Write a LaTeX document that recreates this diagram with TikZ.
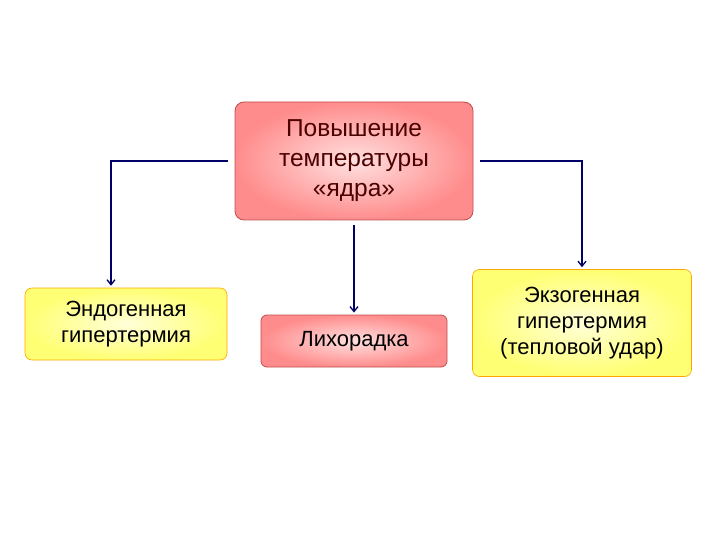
\documentclass[tikz,border=0pt]{standalone}
\usepackage{fontspec}
\setmainfont{Liberation Sans}
\usetikzlibrary{arrows.meta}
\begin{document}
\begin{tikzpicture}[x=1pt,y=-1pt,
 pinkbox/.style={draw=red!65!black!70, line width=0.8pt, rounded corners=9pt, inner color=red!12, outer color=red!45, align=center, font=\fontsize{24.5}{30}\selectfont, text=red!30!black},
 yelbox/.style={draw=orange!70!yellow, line width=0.6pt, rounded corners=7pt, inner color=yellow!15, outer color=yellow!55, align=center, font=\fontsize{22}{26}\selectfont},
 conn/.style={draw=blue!40!black, line width=1.3pt, -{Straight Barb[length=5pt,width=8pt]}}]
\useasboundingbox (0,0) rectangle (720,540);
\node[pinkbox, minimum width=238, minimum height=118, text=red!30!black] (top) at (354,161) {Повышение\\температуры\\«ядра»};
\node[yelbox, minimum width=202, minimum height=72] (left) at (126,324) {Эндогенная\\гипертермия};
\node[pinkbox, rounded corners=6pt, minimum width=186, minimum height=52, font=\fontsize{22}{26}\selectfont, text=black] (mid) at (354,341) {Лихорадка};
\node[yelbox, minimum width=219, minimum height=107] (right) at (582,323) {Экзогенная\\гипертермия\\(тепловой удар)};
\coordinate (lc) at ([xshift=-7pt]top.west);
\coordinate (rc) at ([xshift=7pt]top.east);
\draw[conn] (lc) -| ([xshift=-15pt,yshift=2pt]left.north);
\draw[conn] (rc) -| ([yshift=2pt]right.north);
\draw[conn] ([yshift=-5pt]top.south) -- ([yshift=2pt]mid.north);
\end{tikzpicture}
\end{document}
